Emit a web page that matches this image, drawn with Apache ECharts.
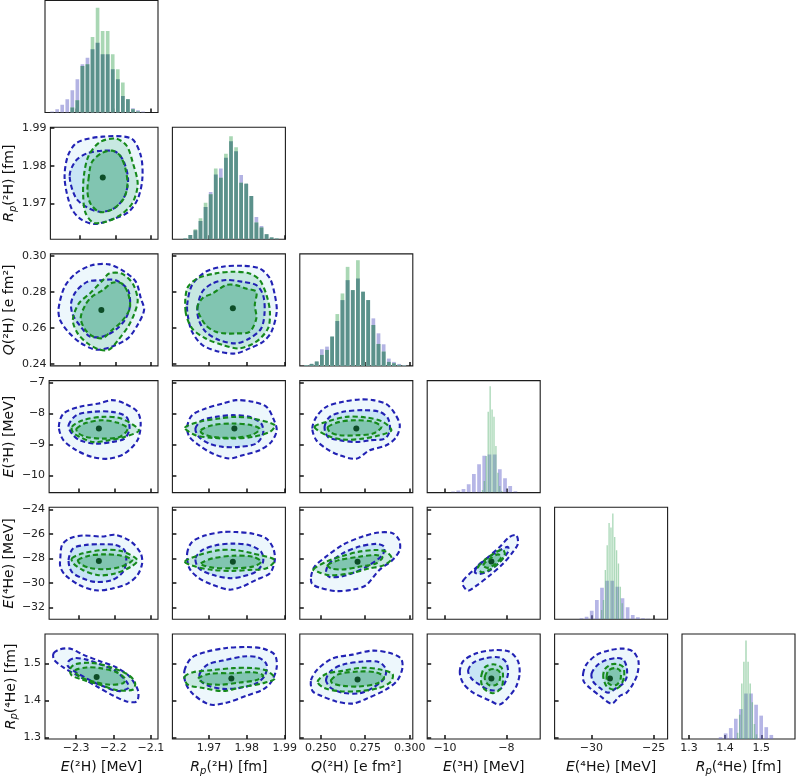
<!DOCTYPE html>
<html><head><meta charset="utf-8">
<script src="https://cdn.jsdelivr.net/npm/echarts@6/dist/echarts.min.js"></script>
<style>html,body{margin:0;padding:0;background:#fff}#c{width:796px;height:777px}</style>
</head><body><div id="c"></div>
<script>
// ---------- axis definitions ----------
const varTitles = ['{it|E}(²H) [MeV]', '{it|R}{sub|p}(²H) [fm]', '{it|Q}(²H) [e fm²]', '{it|E}(³H) [MeV]', '{it|E}(⁴He) [MeV]', '{it|R}{sub|p}(⁴He) [fm]'];
const xRange = [[-2.383,-2.081],[1.9603,1.9902],[0.2383,0.3017],[-10.58,-6.90],[-32.97,-23.87],[1.281,1.593]];
const yRange = [null,[1.9606,1.9902],[0.2389,0.301],[-10.56,-6.935],[-32.96,-23.84],[1.2957,1.58]];
const xTicks = [[-2.3,-2.2,-2.1],[1.97,1.98,1.99],[0.25,0.275,0.30],[-10,-8],[-30,-25],[1.3,1.4,1.5]];
const xTickLabels = [['−2.3','−2.2','−2.1'],['1.97','1.98','1.99'],['0.250','0.275','0.300'],['−10','−8'],['−30','−25'],['1.3','1.4','1.5']];
const yTicks = [null,[1.97,1.98,1.99],[0.24,0.26,0.28,0.30],[-10,-9,-8,-7],[-32,-30,-28,-26,-24],[1.3,1.4,1.5]];
const yTickLabels = [null,['1.97','1.98','1.99'],['0.24','0.26','0.28','0.30'],['−10','−9','−8','−7'],['−32','−30','−28','−26','−24'],['1.3','1.4','1.5']];
const HIST_MAX = 337;

// ---------- histograms (counts, same bins for both samples) ----------
const E2H_bin = [-2.364, 0.0135];
const E2H_blue  = [3,10,23,40,67,100,145,165,190,210,175,175,130,100,50,40,13,7,3];
const E2H_green = [0,0,0,0,15,37,140,145,227,315,245,245,175,130,90,40,10,3,0];
const Rp2H_bin = [1.9637, 0.001345];
const Rp2H_blue  = [2,13,27,55,97,142,195,213,245,295,265,193,167,130,67,40,15,5,2];
const Rp2H_green = [2,13,30,63,110,135,213,185,257,310,277,170,167,130,50,35,15,5,2];
const Q2H_bin = [0.2420, 0.00289];
const Q2H_blue  = [2,6,13,50,58,88,135,198,258,228,263,223,198,143,98,65,22,12,6,2];
const Q2H_green = [2,6,13,33,48,88,156,218,298,228,318,223,198,123,66,43,12,8,3,1];
// ---------- histograms with separate binning ----------
const E3H_binBlue = [-9.736, 0.169];
const E3H_blue = [3,6,11,25,56,85,111,115,115,70,43,20,4];
const E3H_binGreen = [-8.781, 0.0628];
const E3H_green = [8,35,110,243,320,250,228,140,60,20,5];
const E4He_binBlue = [-30.806, 0.413];
const E4He_blue = [3,8,26,58,95,116,116,98,63,36,13,6,3,2];
const E4He_binGreen = [-29.186, 0.151];
const E4He_green = [28,58,148,223,290,276,318,248,208,168,98,48];
const Rp4He_binBlue = [1.3876, 0.014];
const Rp4He_blue = [6,18,35,65,96,146,146,110,75,38,13];
const Rp4He_binGreen = [1.4345, 0.0058];
const Rp4He_green = [20,78,178,248,316,248,178,118,48,15];

// ---------- 2D contours (b1/b2 = blue outer/inner, g1/g2 = green outer/inner) ----------
const p10_b1 = [[-2.343,1.9765],[-2.334,1.9826],[-2.307,1.9862],[-2.236,1.9877],[-2.156,1.9872],[-2.129,1.9826],[-2.125,1.9765],[-2.138,1.9712],[-2.165,1.9677],[-2.209,1.9659],[-2.258,1.9646],[-2.298,1.9659],[-2.325,1.9690]];
const p10_b2 = [[-2.329,1.9774],[-2.312,1.9813],[-2.280,1.9833],[-2.236,1.9840],[-2.200,1.9837],[-2.178,1.9813],[-2.165,1.9765],[-2.174,1.9721],[-2.200,1.9690],[-2.240,1.9678],[-2.280,1.9690],[-2.312,1.9716]];
const p10_g1 = [[-2.289,1.9774],[-2.276,1.9826],[-2.245,1.9862],[-2.200,1.9872],[-2.169,1.9853],[-2.152,1.9809],[-2.138,1.9752],[-2.152,1.9703],[-2.183,1.9672],[-2.227,1.9652],[-2.263,1.9650],[-2.285,1.9677],[-2.291,1.9721]];
const p10_g2 = [[-2.276,1.9765],[-2.267,1.9809],[-2.240,1.9833],[-2.209,1.9840],[-2.187,1.9826],[-2.172,1.9791],[-2.167,1.9747],[-2.178,1.9712],[-2.209,1.9685],[-2.245,1.9678],[-2.270,1.9699],[-2.279,1.9730]];
const p10_core = [-2.236,1.9769];

const p20_b1 = [[-2.360,0.2708],[-2.343,0.2828],[-2.312,0.2901],[-2.267,0.2947],[-2.218,0.2952],[-2.174,0.2910],[-2.143,0.2855],[-2.129,0.2763],[-2.120,0.2699],[-2.138,0.2617],[-2.165,0.2543],[-2.209,0.2497],[-2.254,0.2479],[-2.298,0.2516],[-2.334,0.2580],[-2.356,0.2644]];
const p20_b2 = [[-2.325,0.2736],[-2.312,0.2800],[-2.280,0.2855],[-2.245,0.2864],[-2.200,0.2864],[-2.165,0.2809],[-2.160,0.2717],[-2.174,0.2644],[-2.200,0.2589],[-2.236,0.2552],[-2.272,0.2552],[-2.298,0.2607],[-2.320,0.2672]];
const p20_g1 = [[-2.320,0.2644],[-2.303,0.2736],[-2.272,0.2791],[-2.236,0.2864],[-2.218,0.2901],[-2.183,0.2901],[-2.152,0.2846],[-2.138,0.2754],[-2.147,0.2681],[-2.165,0.2607],[-2.192,0.2534],[-2.218,0.2479],[-2.245,0.2479],[-2.280,0.2516],[-2.307,0.2571]];
const p20_g2 = [[-2.298,0.2653],[-2.285,0.2727],[-2.267,0.2772],[-2.236,0.2809],[-2.209,0.2850],[-2.183,0.2846],[-2.165,0.2791],[-2.160,0.2708],[-2.183,0.2635],[-2.209,0.2589],[-2.236,0.2543],[-2.263,0.2552],[-2.285,0.2589]];
const p20_core = [-2.240,0.2699];

const p30_b1 = [[-2.356,-8.433],[-2.343,-8.0],[-2.298,-7.783],[-2.245,-7.675],[-2.209,-7.567],[-2.174,-7.675],[-2.138,-7.946],[-2.129,-8.325],[-2.138,-8.867],[-2.174,-9.300],[-2.218,-9.463],[-2.263,-9.408],[-2.307,-9.192],[-2.343,-8.867]];
const p30_b2 = [[-2.329,-8.379],[-2.307,-8.054],[-2.263,-7.946],[-2.209,-7.946],[-2.169,-8.108],[-2.160,-8.488],[-2.174,-8.813],[-2.209,-8.921],[-2.254,-8.975],[-2.298,-8.867],[-2.320,-8.650]];
const p30_g1 = [[-2.320,-8.433],[-2.289,-8.217],[-2.236,-8.108],[-2.183,-8.163],[-2.134,-8.542],[-2.174,-8.758],[-2.218,-8.867],[-2.263,-8.921],[-2.298,-8.758],[-2.316,-8.628]];
const p30_g2 = [[-2.307,-8.488],[-2.280,-8.303],[-2.236,-8.217],[-2.192,-8.303],[-2.165,-8.488],[-2.187,-8.758],[-2.236,-8.813],[-2.280,-8.758],[-2.303,-8.628]];
const p30_core = [-2.245,-8.488];

const p40_b1 = [[-2.352,-28.0],[-2.347,-26.90],[-2.325,-26.36],[-2.289,-26.14],[-2.236,-26.22],[-2.200,-26.08],[-2.156,-26.63],[-2.129,-27.59],[-2.125,-28.41],[-2.138,-29.37],[-2.165,-30.05],[-2.209,-30.47],[-2.254,-30.60],[-2.298,-30.19],[-2.338,-29.37],[-2.352,-28.68]];
const p40_b2 = [[-2.329,-28.14],[-2.316,-27.18],[-2.280,-26.90],[-2.236,-26.85],[-2.200,-26.90],[-2.174,-27.32],[-2.169,-28.14],[-2.178,-29.10],[-2.209,-29.78],[-2.254,-29.92],[-2.289,-29.64],[-2.320,-29.10]];
const p40_g1 = [[-2.320,-28.0],[-2.289,-27.59],[-2.236,-27.32],[-2.183,-27.40],[-2.138,-28.14],[-2.156,-28.68],[-2.200,-29.23],[-2.245,-29.37],[-2.289,-28.96],[-2.316,-28.41]];
const p40_g2 = [[-2.303,-28.14],[-2.272,-27.78],[-2.227,-27.67],[-2.183,-27.78],[-2.152,-28.14],[-2.183,-28.68],[-2.227,-28.88],[-2.272,-28.77],[-2.298,-28.41]];
const p40_core = [-2.245,-28.22];

const p50_b1 = [[-2.360,1.5277],[-2.343,1.5387],[-2.316,1.5404],[-2.280,1.5234],[-2.236,1.5064],[-2.192,1.4894],[-2.156,1.4638],[-2.134,1.4255],[-2.138,1.3974],[-2.165,1.3974],[-2.200,1.4128],[-2.245,1.4383],[-2.289,1.4638],[-2.334,1.4894],[-2.359,1.5106]];
const p50_b2 = [[-2.320,1.5064],[-2.303,1.5149],[-2.272,1.5106],[-2.236,1.4979],[-2.196,1.4809],[-2.165,1.4511],[-2.160,1.4340],[-2.187,1.4255],[-2.227,1.4383],[-2.272,1.4596],[-2.307,1.4809],[-2.322,1.4936]];
const p50_g1 = [[-2.316,1.4851],[-2.303,1.4979],[-2.263,1.5021],[-2.218,1.4936],[-2.165,1.4723],[-2.143,1.4511],[-2.147,1.4298],[-2.192,1.4281],[-2.236,1.4426],[-2.280,1.4553],[-2.312,1.4681]];
const p50_g2 = [[-2.303,1.4809],[-2.272,1.4894],[-2.236,1.4877],[-2.192,1.4766],[-2.169,1.4596],[-2.174,1.4468],[-2.209,1.4426],[-2.254,1.4511],[-2.289,1.4638]];
const p50_core = [-2.245,1.4638];

const p21_b1 = [[1.9642,0.2726],[1.9655,0.2837],[1.9691,0.2911],[1.9736,0.2939],[1.9789,0.2944],[1.9834,0.2929],[1.9861,0.2874],[1.9874,0.2782],[1.9879,0.2689],[1.9865,0.2578],[1.9843,0.2523],[1.9807,0.2486],[1.9771,0.2458],[1.9727,0.2468],[1.9682,0.2505],[1.9655,0.2578],[1.9645,0.2652]];
const p21_b2 = [[1.9669,0.2708],[1.9682,0.2800],[1.9709,0.2846],[1.9745,0.2865],[1.9789,0.2855],[1.9825,0.2837],[1.9843,0.2782],[1.9847,0.2689],[1.9838,0.2597],[1.9807,0.2541],[1.9771,0.2514],[1.9727,0.2532],[1.9691,0.2578],[1.9673,0.2643]];
const p21_g1 = [[1.9638,0.2689],[1.9642,0.2818],[1.9669,0.2874],[1.9718,0.2902],[1.9763,0.2911],[1.9807,0.2902],[1.9834,0.2865],[1.9852,0.2782],[1.9861,0.2689],[1.9856,0.2597],[1.9825,0.2523],[1.9780,0.2486],[1.9736,0.2505],[1.9691,0.2541],[1.9655,0.2597]];
const p21_g2 = [[1.9669,0.2708],[1.9682,0.2763],[1.9709,0.2791],[1.9745,0.2837],[1.9771,0.2837],[1.9798,0.2818],[1.9825,0.2800],[1.9821,0.2726],[1.9825,0.2652],[1.9807,0.2578],[1.9771,0.2569],[1.9745,0.2569],[1.9718,0.2578],[1.9691,0.2615]];
const p21_core = [1.9763,0.2708];

const p31_b1 = [[1.9642,-8.432],[1.9655,-8.054],[1.9691,-7.838],[1.9736,-7.676],[1.9771,-7.568],[1.9816,-7.622],[1.9852,-7.784],[1.9870,-8.162],[1.9879,-8.539],[1.9865,-8.917],[1.9834,-9.187],[1.9789,-9.348],[1.9754,-9.456],[1.9709,-9.294],[1.9673,-9.025],[1.9648,-8.755]];
const p31_b2 = [[1.9664,-8.485],[1.9682,-8.216],[1.9718,-8.108],[1.9763,-8.054],[1.9807,-8.108],[1.9838,-8.324],[1.9843,-8.647],[1.9825,-8.971],[1.9780,-9.079],[1.9736,-9.079],[1.9700,-8.971],[1.9673,-8.755]];
const p31_g1 = [[1.9636,-8.464],[1.9673,-8.270],[1.9727,-8.162],[1.9771,-8.108],[1.9816,-8.162],[1.9874,-8.378],[1.9861,-8.593],[1.9816,-8.755],[1.9763,-8.809],[1.9709,-8.788],[1.9664,-8.701]];
const p31_g2 = [[1.9678,-8.539],[1.9709,-8.378],[1.9763,-8.324],[1.9812,-8.378],[1.9834,-8.507],[1.9812,-8.701],[1.9763,-8.788],[1.9709,-8.755],[1.9682,-8.647]];
const p31_core = [1.9767,-8.485];

const p41_b1 = [[1.9642,-27.598],[1.9655,-26.660],[1.9691,-26.123],[1.9736,-25.855],[1.9771,-25.855],[1.9816,-25.989],[1.9852,-26.391],[1.9870,-27.196],[1.9874,-28.134],[1.9861,-29.206],[1.9825,-29.743],[1.9789,-30.279],[1.9754,-30.547],[1.9709,-30.145],[1.9673,-29.609],[1.9648,-28.804]];
const p41_b2 = [[1.9664,-28.0],[1.9682,-27.330],[1.9718,-26.928],[1.9763,-26.794],[1.9807,-26.928],[1.9838,-27.464],[1.9843,-28.268],[1.9825,-29.072],[1.9789,-29.475],[1.9754,-29.609],[1.9709,-29.340],[1.9673,-28.804]];
const p41_g1 = [[1.9636,-28.268],[1.9673,-27.732],[1.9727,-27.330],[1.9771,-27.330],[1.9816,-27.598],[1.9874,-28.134],[1.9852,-28.804],[1.9807,-28.938],[1.9763,-29.019],[1.9709,-28.938],[1.9664,-28.670]];
const p41_g2 = [[1.9678,-28.402],[1.9709,-28.0],[1.9763,-27.786],[1.9816,-27.866],[1.9838,-28.268],[1.9816,-28.670],[1.9763,-28.804],[1.9709,-28.751],[1.9682,-28.536]];
const p41_core = [1.9763,-28.268];

const p51_b1 = [[1.9635,1.4809],[1.9653,1.5149],[1.9693,1.5319],[1.9746,1.5421],[1.9799,1.5447],[1.9843,1.5404],[1.9874,1.5234],[1.9879,1.4894],[1.9865,1.4511],[1.9843,1.4298],[1.9799,1.4128],[1.9746,1.3940],[1.9702,1.3889],[1.9658,1.4170],[1.9638,1.4468]];
const p51_b2 = [[1.9675,1.4723],[1.9697,1.4979],[1.9737,1.5081],[1.9790,1.5191],[1.9830,1.5166],[1.9852,1.4979],[1.9848,1.4681],[1.9826,1.4468],[1.9781,1.4340],[1.9737,1.4315],[1.9702,1.4383],[1.9680,1.4511]];
const p51_g1 = [[1.9635,1.4638],[1.9658,1.4766],[1.9711,1.4826],[1.9764,1.4877],[1.9817,1.4877],[1.9852,1.4809],[1.9874,1.4596],[1.9843,1.4468],[1.9790,1.4366],[1.9737,1.4255],[1.9684,1.4340],[1.9644,1.4426]];
const p51_g2 = [[1.9671,1.4596],[1.9702,1.4723],[1.9764,1.4740],[1.9817,1.4766],[1.9843,1.4681],[1.9826,1.4553],[1.9781,1.4485],[1.9728,1.4426],[1.9688,1.4468]];
const p51_core = [1.9759,1.4596];

const p32_b1 = [[0.2453,-8.488],[0.2476,-8.108],[0.2532,-7.783],[0.2625,-7.621],[0.2719,-7.545],[0.2794,-7.567],[0.2869,-7.697],[0.2916,-8.0],[0.2944,-8.379],[0.2925,-8.758],[0.2869,-9.029],[0.2775,-9.192],[0.2700,-9.463],[0.2607,-9.354],[0.2532,-9.138],[0.2476,-8.867]];
const p32_b2 = [[0.2522,-8.433],[0.2551,-8.108],[0.2625,-7.946],[0.2738,-7.892],[0.2831,-7.946],[0.2878,-8.163],[0.2888,-8.542],[0.2860,-8.813],[0.2775,-8.867],[0.2700,-8.921],[0.2607,-8.867],[0.2541,-8.758]];
const p32_g1 = [[0.2466,-8.433],[0.2532,-8.271],[0.2644,-8.108],[0.2757,-8.130],[0.2850,-8.271],[0.2897,-8.542],[0.2831,-8.704],[0.2738,-8.813],[0.2625,-8.845],[0.2532,-8.704]];
const p32_g2 = [[0.2541,-8.433],[0.2607,-8.271],[0.2700,-8.217],[0.2794,-8.271],[0.2841,-8.433],[0.2794,-8.650],[0.2700,-8.704],[0.2607,-8.704],[0.2551,-8.596]];
const p32_core = [0.2700,-8.488];

const p42_b1 = [[0.2446,-29.507],[0.2465,-28.685],[0.2530,-27.863],[0.2623,-26.904],[0.2735,-26.219],[0.2828,-25.890],[0.2903,-25.945],[0.2940,-26.493],[0.2944,-27.315],[0.2903,-28.137],[0.2828,-28.959],[0.2754,-30.192],[0.2679,-30.548],[0.2586,-30.658],[0.2493,-30.384],[0.2451,-30.055]];
const p42_b2 = [[0.2530,-29.096],[0.2549,-28.411],[0.2623,-27.589],[0.2716,-27.041],[0.2810,-26.822],[0.2856,-27.041],[0.2847,-27.726],[0.2772,-28.548],[0.2698,-29.096],[0.2623,-29.452],[0.2549,-29.507]];
const p42_g1 = [[0.2459,-28.904],[0.2530,-28.274],[0.2623,-27.808],[0.2716,-27.452],[0.2810,-27.315],[0.2866,-27.452],[0.2899,-28.0],[0.2856,-28.548],[0.2772,-28.822],[0.2660,-29.233],[0.2549,-29.370],[0.2483,-29.096]];
const p42_g2 = [[0.2539,-28.548],[0.2604,-28.137],[0.2716,-27.863],[0.2810,-27.726],[0.2847,-27.918],[0.2810,-28.411],[0.2716,-28.685],[0.2623,-28.904],[0.2558,-28.822]];
const p42_core = [0.2707,-28.274];

const p52_b1 = [[0.2446,1.4549],[0.2483,1.4844],[0.2567,1.5139],[0.2679,1.5241],[0.2791,1.5350],[0.2884,1.5291],[0.2950,1.5139],[0.2959,1.4886],[0.2931,1.4549],[0.2866,1.4295],[0.2754,1.4042],[0.2679,1.3916],[0.2586,1.3975],[0.2502,1.4127],[0.2455,1.4253]];
const p52_b2 = [[0.2530,1.4549],[0.2558,1.4802],[0.2623,1.4970],[0.2735,1.5055],[0.2828,1.5038],[0.2866,1.4844],[0.2856,1.4591],[0.2791,1.4338],[0.2716,1.4194],[0.2623,1.4211],[0.2558,1.4338]];
const p52_g1 = [[0.2483,1.4506],[0.2530,1.4717],[0.2623,1.4802],[0.2735,1.4886],[0.2828,1.4844],[0.2903,1.4717],[0.2894,1.4506],[0.2828,1.4338],[0.2716,1.4253],[0.2604,1.4253],[0.2521,1.4338]];
const p52_g2 = [[0.2558,1.4549],[0.2604,1.4717],[0.2716,1.4785],[0.2810,1.4759],[0.2856,1.4633],[0.2819,1.4464],[0.2716,1.4380],[0.2623,1.4397],[0.2567,1.4464]];
const p52_core = [0.2707,1.4565];

const p43_b1 = [[-9.410,-29.808],[-9.085,-28.986],[-8.653,-28.027],[-8.220,-27.068],[-7.895,-26.247],[-7.679,-26.110],[-7.625,-26.795],[-7.787,-27.479],[-8.112,-28.438],[-8.545,-29.397],[-8.977,-30.219],[-9.248,-30.630],[-9.410,-30.219]];
const p43_b2 = [[-9.031,-29.123],[-8.923,-28.575],[-8.653,-28.027],[-8.220,-27.342],[-7.949,-27.068],[-7.949,-27.479],[-8.220,-28.301],[-8.545,-28.986],[-8.869,-29.260]];
const p43_g1 = [[-8.923,-28.712],[-8.653,-28.027],[-8.328,-27.479],[-8.112,-27.288],[-8.058,-27.753],[-8.274,-28.438],[-8.599,-28.986],[-8.815,-29.123]];
const p43_g2 = [[-8.761,-28.575],[-8.545,-28.027],[-8.274,-27.671],[-8.166,-27.890],[-8.328,-28.384],[-8.599,-28.767]];
const p43_core = [-8.490,-28.247];

const p53_b1 = [[-9.518,1.4766],[-9.410,1.5064],[-8.977,1.5277],[-8.436,1.5362],[-7.895,1.5319],[-7.624,1.5064],[-7.570,1.4723],[-7.678,1.4383],[-7.895,1.4128],[-8.219,1.3889],[-8.544,1.4],[-9.085,1.4213],[-9.410,1.4468]];
const p53_b2 = [[-9.248,1.4809],[-9.085,1.5021],[-8.652,1.5149],[-8.219,1.5166],[-8.003,1.5021],[-7.949,1.4723],[-8.057,1.4468],[-8.219,1.4298],[-8.544,1.4281],[-8.869,1.4426],[-9.140,1.4596]];
const p53_g1 = [[-8.815,1.4681],[-8.707,1.4894],[-8.436,1.4979],[-8.165,1.4894],[-8.111,1.4638],[-8.165,1.4340],[-8.436,1.4196],[-8.707,1.4298],[-8.815,1.4468]];
const p53_g2 = [[-8.707,1.4638],[-8.598,1.4809],[-8.381,1.4851],[-8.219,1.4766],[-8.219,1.4553],[-8.327,1.4426],[-8.544,1.4409],[-8.674,1.4511]];
const p53_core = [-8.490,1.4596];

const p54_b1 = [[-30.674,1.4723],[-30.404,1.4979],[-29.593,1.5234],[-28.513,1.5362],[-27.432,1.5404],[-26.622,1.5319],[-26.217,1.5064],[-26.298,1.4723],[-26.622,1.4468],[-27.162,1.4213],[-27.703,1.4128],[-28.378,1.3915],[-29.323,1.4128],[-30.134,1.4340],[-30.620,1.4511]];
const p54_b2 = [[-30.0,1.4723],[-29.593,1.4936],[-28.918,1.5081],[-27.973,1.5149],[-27.432,1.5106],[-27.162,1.4894],[-27.162,1.4638],[-27.432,1.4468],[-27.973,1.4340],[-28.648,1.4213],[-29.323,1.4340],[-29.864,1.4511]];
const p54_g1 = [[-29.053,1.4638],[-28.918,1.4851],[-28.378,1.4979],[-27.838,1.4979],[-27.432,1.4894],[-27.378,1.4638],[-27.703,1.4383],[-28.243,1.4298],[-28.783,1.4383]];
const p54_g2 = [[-28.783,1.4638],[-28.648,1.4809],[-28.108,1.4877],[-27.703,1.4809],[-27.649,1.4596],[-27.973,1.4426],[-28.459,1.4426],[-28.729,1.4511]];
const p54_core = [-28.513,1.4596];

// ---------- layout & style ----------
const FONT = 'DejaVu Sans';
const COL_LEFT = [45, 172.4, 299.8, 427.2, 554.6, 682.0];
const ROW_TOP = [0.5, 127.2, 253.9, 380.6, 507.3, 634.0];
const PW = 113, PH = 112;
const BAR_FRAC = 0.72;
const Y_NAME_GAP = [0, 26, 26, 26, 26, 21];
const H_BLUE = '#b3b3e3', H_GREEN = '#a9d7b4', H_TEAL = '#5b918b';
const H_BLUE_A = 'rgba(110,110,205,0.5)', H_GREEN_A = 'rgba(70,170,100,0.45)';
const C_BLUE = '#2222b4', C_GREEN = '#168a1c';
const F_B1 = 'rgba(190,226,243,0.28)', F_B2 = 'rgba(140,200,234,0.38)', F_G1 = 'rgba(125,202,172,0.34)', F_G2 = 'rgba(60,163,112,0.40)', F_CORE = '#0d4d27';

const panels = [
  {r:1,c:0,b1:p10_b1,b2:p10_b2,g1:p10_g1,g2:p10_g2,core:p10_core},
  {r:2,c:0,b1:p20_b1,b2:p20_b2,g1:p20_g1,g2:p20_g2,core:p20_core},
  {r:3,c:0,b1:p30_b1,b2:p30_b2,g1:p30_g1,g2:p30_g2,core:p30_core},
  {r:4,c:0,b1:p40_b1,b2:p40_b2,g1:p40_g1,g2:p40_g2,core:p40_core},
  {r:5,c:0,b1:p50_b1,b2:p50_b2,g1:p50_g1,g2:p50_g2,core:p50_core},
  {r:2,c:1,b1:p21_b1,b2:p21_b2,g1:p21_g1,g2:p21_g2,core:p21_core},
  {r:3,c:1,b1:p31_b1,b2:p31_b2,g1:p31_g1,g2:p31_g2,core:p31_core},
  {r:4,c:1,b1:p41_b1,b2:p41_b2,g1:p41_g1,g2:p41_g2,core:p41_core},
  {r:5,c:1,b1:p51_b1,b2:p51_b2,g1:p51_g1,g2:p51_g2,core:p51_core},
  {r:3,c:2,b1:p32_b1,b2:p32_b2,g1:p32_g1,g2:p32_g2,core:p32_core},
  {r:4,c:2,b1:p42_b1,b2:p42_b2,g1:p42_g1,g2:p42_g2,core:p42_core},
  {r:5,c:2,b1:p52_b1,b2:p52_b2,g1:p52_g1,g2:p52_g2,core:p52_core},
  {r:4,c:3,b1:p43_b1,b2:p43_b2,g1:p43_g1,g2:p43_g2,core:p43_core},
  {r:5,c:3,b1:p53_b1,b2:p53_b2,g1:p53_g1,g2:p53_g2,core:p53_core},
  {r:5,c:4,b1:p54_b1,b2:p54_b2,g1:p54_g1,g2:p54_g2,core:p54_core}
];

function fmt(v, ticks, labels) {
  for (let i = 0; i < ticks.length; i++) if (Math.abs(ticks[i] - v) < 1e-7) return labels[i];
  return '';
}
const nameStyle = {
  fontSize: 14, color: '#111', fontFamily: FONT, lineHeight: 17,
  rich: {
    it: {fontStyle: 'italic', fontSize: 14, fontFamily: FONT, color: '#111', lineHeight: 17},
    sub: {fontStyle: 'italic', fontSize: 10, fontFamily: FONT, color: '#111', verticalAlign: 'bottom', lineHeight: 8}
  }
};

const grids = [], xAxes = [], yAxes = [], series = [];
const gIdx = {};
for (let r = 0; r < 6; r++) {
  for (let c = 0; c <= r; c++) {
    const idx = grids.length; gIdx[r + '_' + c] = idx;
    const bottom = r === 5, leftCol = c === 0 && r > 0, diag = r === c;
    grids.push({left: COL_LEFT[c], top: ROW_TOP[r], width: PW, height: PH, show: true,
      borderColor: '#1c1c1c', borderWidth: 1.1, backgroundColor: 'rgba(0,0,0,0)'});
    xAxes.push({gridIndex: idx, type: 'value', min: xRange[c][0], max: xRange[c][1],
      axisLine: {show: false}, splitLine: {show: false},
      axisTick: {show: true, inside: true, length: 4, lineStyle: {color: '#111', width: 1.5}, customValues: xTicks[c]},
      axisLabel: {show: bottom, customValues: xTicks[c], formatter: v => fmt(v, xTicks[c], xTickLabels[c]),
        fontSize: 11, color: '#222', margin: 4, fontFamily: FONT},
      name: bottom ? varTitles[c] : '', nameLocation: 'middle', nameGap: 20, nameTextStyle: nameStyle});
    if (diag) {
      yAxes.push({gridIndex: idx, type: 'value', min: 0, max: HIST_MAX, show: true,
        axisLine: {show: false}, splitLine: {show: false}, axisTick: {show: false}, axisLabel: {show: false}});
    } else {
      yAxes.push({gridIndex: idx, type: 'value', min: yRange[r][0], max: yRange[r][1],
        axisLine: {show: false}, splitLine: {show: false},
        axisTick: {show: true, inside: true, length: 4, lineStyle: {color: '#111', width: 1.5}, customValues: yTicks[r]},
        axisLabel: {show: leftCol, customValues: yTicks[r], formatter: v => fmt(v, yTicks[r], yTickLabels[r]),
          fontSize: 11, color: '#222', margin: 4, fontFamily: FONT},
        name: leftCol ? varTitles[r] : '', nameLocation: 'middle', nameRotate: 90, nameGap: Y_NAME_GAP[r], nameTextStyle: nameStyle});
    }
  }
}

function rectAt(api, x, w, h, fill) {
  const a = api.coord([x - w / 2, h]), b = api.coord([x + w / 2, 0]);
  return {type: 'rect', shape: {x: a[0], y: a[1], width: b[0] - a[0], height: b[1] - a[1]}, style: {fill}};
}
function histAligned(idx, bin, blue, green) {
  const data = blue.map((b, i) => [bin[0] + i * bin[1], b, green[i]]);
  const w = bin[1] * BAR_FRAC;
  return {type: 'custom', xAxisIndex: idx, yAxisIndex: idx, clip: true, silent: true, data,
    encode: {x: 0, y: 1},
    renderItem: (p, api) => {
      const x = api.value(0), b = api.value(1), g = api.value(2);
      return {type: 'group', children: [rectAt(api, x, w, b, H_BLUE), rectAt(api, x, w, g, H_GREEN), rectAt(api, x, w, Math.min(b, g), H_TEAL)]};
    }};
}
function histSingle(idx, bin, counts, fill, z) {
  const data = counts.map((v, i) => [bin[0] + i * bin[1], v]);
  const w = bin[1] * BAR_FRAC;
  return {type: 'custom', xAxisIndex: idx, yAxisIndex: idx, clip: true, silent: true, z, data,
    encode: {x: 0, y: 1},
    renderItem: (p, api) => rectAt(api, api.value(0), w, api.value(1), fill)};
}
series.push(histAligned(gIdx['0_0'], E2H_bin, E2H_blue, E2H_green));
series.push(histAligned(gIdx['1_1'], Rp2H_bin, Rp2H_blue, Rp2H_green));
series.push(histAligned(gIdx['2_2'], Q2H_bin, Q2H_blue, Q2H_green));
series.push(histSingle(gIdx['3_3'], E3H_binBlue, E3H_blue, H_BLUE_A, 2));
series.push(histSingle(gIdx['3_3'], E3H_binGreen, E3H_green, H_GREEN_A, 3));
series.push(histSingle(gIdx['4_4'], E4He_binBlue, E4He_blue, H_BLUE_A, 2));
series.push(histSingle(gIdx['4_4'], E4He_binGreen, E4He_green, H_GREEN_A, 3));
series.push(histSingle(gIdx['5_5'], Rp4He_binBlue, Rp4He_blue, H_BLUE_A, 2));
series.push(histSingle(gIdx['5_5'], Rp4He_binGreen, Rp4He_green, H_GREEN_A, 3));

panels.forEach(P => {
  const idx = gIdx[P.r + '_' + P.c];
  series.push({type: 'custom', xAxisIndex: idx, yAxisIndex: idx, clip: true, silent: true, data: [P.core],
    renderItem: (p, api) => {
      const poly = (pts, style) => ({type: 'polygon', shape: {points: pts.map(q => api.coord(q)), smooth: 0.3}, style});
      const dash = col => ({fill: 'none', stroke: col, lineWidth: 2.1, lineDash: [5, 3]});
      const cc = api.coord(P.core);
      return {type: 'group', children: [
        poly(P.b1, {fill: F_B1}), poly(P.b2, {fill: F_B2}), poly(P.g1, {fill: F_G1}), poly(P.g2, {fill: F_G2}),
        {type: 'circle', shape: {cx: cc[0], cy: cc[1], r: 3}, style: {fill: F_CORE}},
        poly(P.b1, dash(C_BLUE)), poly(P.b2, dash(C_BLUE)), poly(P.g1, dash(C_GREEN)), poly(P.g2, dash(C_GREEN))
      ]};
    }});
});

const chart = echarts.init(document.getElementById('c'), null, {renderer: 'canvas'});
chart.setOption({animation: false, backgroundColor: '#fff', grid: grids, xAxis: xAxes, yAxis: yAxes, series});
</script>
</body></html>
